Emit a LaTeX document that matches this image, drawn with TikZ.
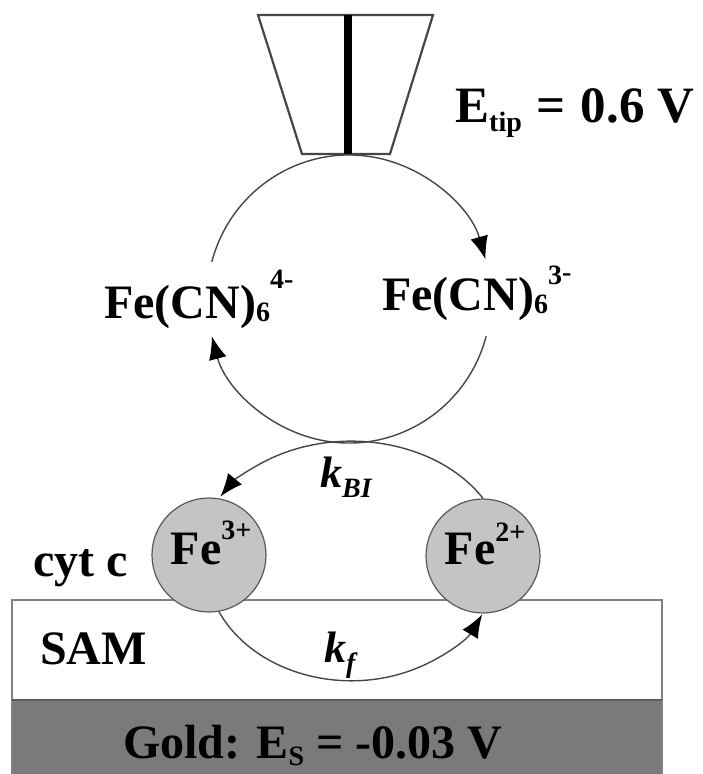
\documentclass[tikz,border=0pt]{standalone}
\usepackage{fontspec}
\setmainfont{Liberation Serif}
\usetikzlibrary{arrows.meta}
\definecolor{ionfill}{RGB}{196,196,196}
\definecolor{ionedge}{RGB}{90,90,90}
\definecolor{goldfill}{RGB}{122,122,122}
\definecolor{boxedge}{RGB}{130,130,130}
\definecolor{linec}{RGB}{70,70,70}
\newcommand{\mysub}[2][5]{\raisebox{-#1pt}{\fontsize{28}{30}\selectfont #2}}
\newcommand{\mysup}[2][26]{\raisebox{#1pt}{\fontsize{28}{30}\selectfont #2}}
\tikzset{
  lbl/.style={inner sep=0pt, anchor=base west, font=\fontsize{48}{50}\selectfont\bfseries},
  klbl/.style={inner sep=0pt, anchor=base west, font=\fontsize{44}{48}\selectfont\bfseries\itshape},
  ion/.style={circle, draw=ionedge, line width=1.2pt, fill=ionfill, minimum size=114pt, inner sep=0pt},
  ionlbl/.style={inner sep=0pt, anchor=base, font=\fontsize{48}{50}\selectfont\bfseries},
  loop/.style={draw=linec, line width=1.4pt, -{Latex[length=23pt,width=18pt,color=black]}},
  tipline/.style={draw=linec, line width=2.2pt, line join=miter}
}
\begin{document}
\begin{tikzpicture}[x=1pt,y=1pt]
\useasboundingbox (0,0) rectangle (703,774);
% substrate layers
\fill[goldfill] (12,0) rectangle (662,74);
\draw[boxedge, line width=1.6pt] (12,0) -- (12,174) -- (662,174) -- (662,0);
\draw[boxedge!70!black, line width=1.6pt] (12,74) -- (662,74);
% tip
\draw[tipline] (258,759) -- (433,759) -- (390,620) -- (302,620) -- cycle;
\draw[black, line width=8pt] (348,759) -- (348,620);
\node[lbl, font=\fontsize{51}{53}\selectfont\bfseries] (etip) at (455,651) {E\mysub[9]{tip}\hspace{15pt}=\hspace{15pt}0.6\hspace{13pt}V};
% mediator labels
\node[lbl] (fe4) at (104,455) {Fe(CN)\mysub[3]{6}\mysup[30]{4-}};
\node[lbl] (fe3cn) at (382,463) {Fe(CN)\mysub[3]{6}\mysup[26]{3\raisebox{3pt}{-}}};
\coordinate (uc) at (349,475);
\draw[loop] ([shift={(165:142 and 144)}]uc) arc[start angle=165, end angle=16, x radius=142, y radius=144];
\draw[loop] ([shift={(-15:142 and 144)}]uc) arc[start angle=-15, end angle=-165, x radius=142, y radius=144];
% cytochrome
\node[ion] (fe3) at (209,219) {};
\node[ion] (fe2) at (483,218) {};
\node[ionlbl] (fe3t) at (211,209) {Fe\mysup[25]{3+}};
\node[ionlbl] (fe2t) at (485,209) {Fe\mysup[23]{2+}};
\draw[loop] (fe2.north) arc[start angle=31, end angle=148, x radius=154, y radius=118];
\draw[loop] (fe3.-80) arc[start angle=204.5, end angle=334, x radius=145.5, y radius=118];
\node[klbl] (kbi) at (320,286) {k\mysub[10]{\fontsize{28}{30}\selectfont BI}};
\node[klbl] (kf) at (324,111) {k\mysub[10]{\fontsize{28}{30}\selectfont f}};
\node[lbl] (cyt) at (33,197) {cyt c};
\node[lbl] (sam) at (40,109) {SAM};
\node[lbl] (gold) at (123,16) {Gold: E\mysub[7]{S} = -0.03 V};
\end{tikzpicture}
\end{document}
